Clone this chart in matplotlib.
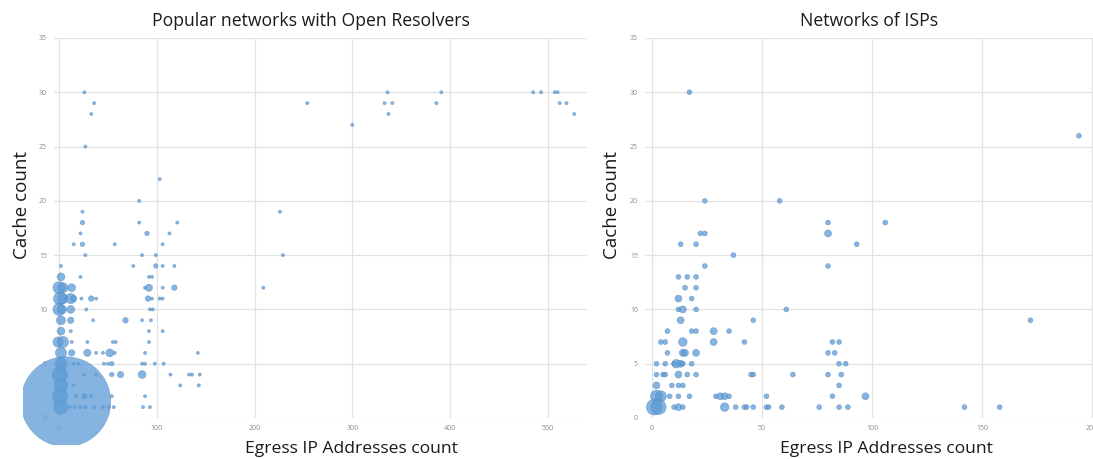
import matplotlib
matplotlib.use("Agg")
import matplotlib.pyplot as plt
from matplotlib.patches import Rectangle

plt.rcParams['font.family'] = ['Open Sans', 'DejaVu Sans']

# Popular networks with open resolvers: egress IPs, cache count, number of networks
open_x = [26, 485, 493, 507, 510, 336, 391,
          36, 254, 333, 341, 386, 512, 519,
          33, 337, 527,
          300, 27, 103, 82,
          24, 226,
          24, 82, 121,
          22, 90, 113,
          15, 24, 57, 106,
          27, 85, 99, 229,
          2, 76, 99, 106, 118,
          2, 22, 92, 95,
          0, 4, 13, 88, 92, 106, 118, 209,
          1, 4, 12, 15, 23, 33, 38, 91, 95, 103, 106,
          0, 3, 12, 28, 93, 96,
          2, 12, 35, 68, 85, 94,
          2, 12, 92, 106,
          -1, 4, 13, 29, 55, 58, 92,
          2, 13, 29, 38, 45, 52, 57, 88, 142,
          2, 15, 20, 46, 50, 54, 85, 88, 98, 107,
          1, 26, 38, 54, 63, 85, 114, 133, 136, 144,
          2, 15, 124, 143,
          1, 17, 26, 33, 54, 88,
          2, 11, 16, 22, 27, 36, 45, 51, 56, 86, 93,
          7]
open_y = [30, 30, 30, 30, 30, 30, 30,
          29, 29, 29, 29, 29, 29, 29,
          28, 28, 28,
          27, 25, 22, 20,
          19, 19,
          18, 18, 18,
          17, 17, 17,
          16, 16, 16, 16,
          15, 15, 15, 15,
          14, 14, 14, 14, 14,
          13, 13, 13, 13,
          12, 12, 12, 12, 12, 12, 12, 12,
          11, 11, 11, 11, 11, 11, 11, 11, 11, 11, 11,
          10, 10, 10, 10, 10, 10,
          9, 9, 9, 9, 9, 9,
          8, 8, 8, 8,
          7, 7, 7, 7, 7, 7, 7,
          6, 6, 6, 6, 6, 6, 6, 6, 6,
          5, 5, 5, 5, 5, 5, 5, 5, 5, 5,
          4, 4, 4, 4, 4, 4, 4, 4, 4, 4,
          3, 3, 3, 3,
          2, 2, 2, 2, 2, 2,
          1, 1, 1, 1, 1, 1, 1, 1, 1, 1, 1,
          1.5]
open_n = [1, 1, 1, 1, 1, 1, 1,
          1, 1, 1, 1, 1, 1, 1,
          1, 1, 1,
          1, 1, 1, 1,
          1, 1,
          2, 1, 1,
          1, 2, 1,
          1, 2, 1, 1,
          1, 1, 1, 1,
          1, 1, 2, 1, 1,
          6, 1, 1, 1,
          14, 10, 6, 1, 5, 1, 3, 1,
          16, 10, 10, 4, 1, 3, 1, 3, 1, 1, 1,
          14, 8, 6, 1, 1, 1,
          8, 4, 1, 3, 1, 1,
          6, 1, 1, 1,
          10, 12, 1, 1, 1, 1, 1,
          12, 4, 5, 1, 1, 6, 1, 1, 1,
          14, 1, 1, 1, 1, 2, 1, 1, 1, 1,
          22, 1, 1, 2, 4, 6, 1, 1, 1, 1,
          18, 1, 1, 1,
          22, 1, 3, 1, 1, 1,
          20, 1, 1, 1, 1, 1, 1, 1, 1, 1, 1,
          760]

# Networks of ISPs
isp_x = [17, 194, 24, 58, 80, 106,
         22, 24, 80, 13, 20, 93, 37, 24, 80,
         12, 16, 20, 15, 20, 12, 18,
         12, 14, 20, 61, 13, 46, 172,
         7, 18, 20, 28, 35,
         4, 6, 14, 28, 42, 82, 85,
         7, 14, 15, 20, 80, 83,
         2, 6, 10, 11, 13, 14, 18, 85, 88,
         2, 5, 6, 12, 16, 20, 45, 46, 64, 80, 86,
         2, 9, 12, 14, 85,
         2, 4, 8, 12, 17, 29, 31, 33, 35, 52, 82, 97,
         1, 3, 10, 12, 14, 33, 38, 42, 43, 46, 52, 53, 59, 76, 85, 89, 142, 158]
isp_y = [30, 26, 20, 20, 18, 18,
         17, 17, 17, 16, 16, 16, 15, 14, 14,
         13, 13, 13, 12, 12, 11, 11,
         10, 10, 10, 10, 9, 9, 9,
         8, 8, 8, 8, 8,
         7, 7, 7, 7, 7, 7, 7,
         6, 6, 6, 6, 6, 6,
         5, 5, 5, 5, 5, 5, 5, 5, 5,
         4, 4, 4, 4, 4, 4, 4, 4, 4, 4, 4,
         3, 3, 3, 3, 3,
         2, 2, 2, 2, 2, 2, 2, 2, 2, 2, 2, 2,
         1, 1, 1, 1, 1, 1, 1, 1, 1, 1, 1, 1, 1, 1, 1, 1, 1, 1]
isp_n = [1, 1, 1, 1, 1, 1,
         1, 1, 2, 1, 1, 1, 1, 1, 1,
         1, 1, 1, 1, 1, 2, 1,
         1, 2, 1, 1, 2, 1, 1,
         1, 1, 1, 2, 1,
         1, 1, 3, 2, 1, 1, 1,
         1, 2, 2, 2, 1, 1,
         1, 1, 1, 3, 2, 1, 1, 1, 1,
         1, 1, 1, 2, 1, 1, 1, 1, 1, 1, 1,
         2, 1, 1, 1, 1,
         6, 5, 1, 1, 1, 1, 2, 2, 1, 1, 1, 2,
         10, 9, 1, 2, 1, 3, 1, 1, 1, 1, 1, 1, 1, 1, 1, 1, 1, 1]

titles = ['Popular networks with Open Resolvers', 'Networks of ISPs']
xlabel = 'Egress IP Addresses count'
ylabel = 'Cache count'

W, H = 1093, 459
fig = plt.figure(figsize=(W / 100, H / 100), dpi=100)

def px_axes(x0, x1, top, bottom):
    return fig.add_axes([x0 / W, (H - bottom) / H, (x1 - x0) / W, (bottom - top) / H])

ax1 = px_axes(54, 587, 38, 418)
ax2 = px_axes(645, 1100, 38, 418)

blue = '#5b9bd5'
sc1 = ax1.scatter(open_x, open_y, s=[5.5 * n for n in open_n], color=blue,
                  alpha=0.75, edgecolor='#4f80b8', linewidth=0.3, clip_on=True, zorder=3)
# the big bubble spills past the plot area, trimmed by the chart frame
sc1.set_clip_path(Rectangle((23 / W, 14 / H), 1, 1, transform=fig.transFigure))
ax2.scatter(isp_x, isp_y, s=[13 * n for n in isp_n], color=blue,
            alpha=0.75, edgecolor='#4f80b8', linewidth=0.3, zorder=3)

ax1.set_xlim(-5.1, 540)
ax1.set_xticks(range(0, 501, 100))
ax2.set_xlim(-3.2, 203.6)
ax2.set_xticks(range(0, 201, 50))

for ax, title in zip([ax1, ax2], titles):
    ax.set_ylim(0, 35)
    ax.set_yticks(range(0, 36, 5))
    ax.grid(True, color='#e2e2e2', linewidth=0.9, zorder=0)
    ax.set_axisbelow(True)
    for sp in ax.spines.values():
        sp.set_visible(False)
    ax.tick_params(length=0, labelsize=5, labelcolor='#8c8c8c', pad=5)

fig.text(311 / W, 1 - 21 / H, titles[0], ha='center', va='center', fontsize=12.7, color='#1a1a1a')
fig.text(869 / W, 1 - 21 / H, titles[1], ha='center', va='center', fontsize=12.7, color='#1a1a1a')
fig.text(351 / W, 1 - 441 / H, xlabel, ha='center', va='top', fontsize=12.6, color='#1a1a1a')
fig.text(886 / W, 1 - 441 / H, xlabel, ha='center', va='top', fontsize=12.6, color='#1a1a1a')
fig.text(22 / W, 1 - 205 / H, ylabel, ha='center', va='center', rotation=90, fontsize=13.5, color='#1a1a1a')
fig.text(612 / W, 1 - 205 / H, ylabel, ha='center', va='center', rotation=90, fontsize=13.5, color='#1a1a1a')

fig.savefig('out.png', dpi=100)
